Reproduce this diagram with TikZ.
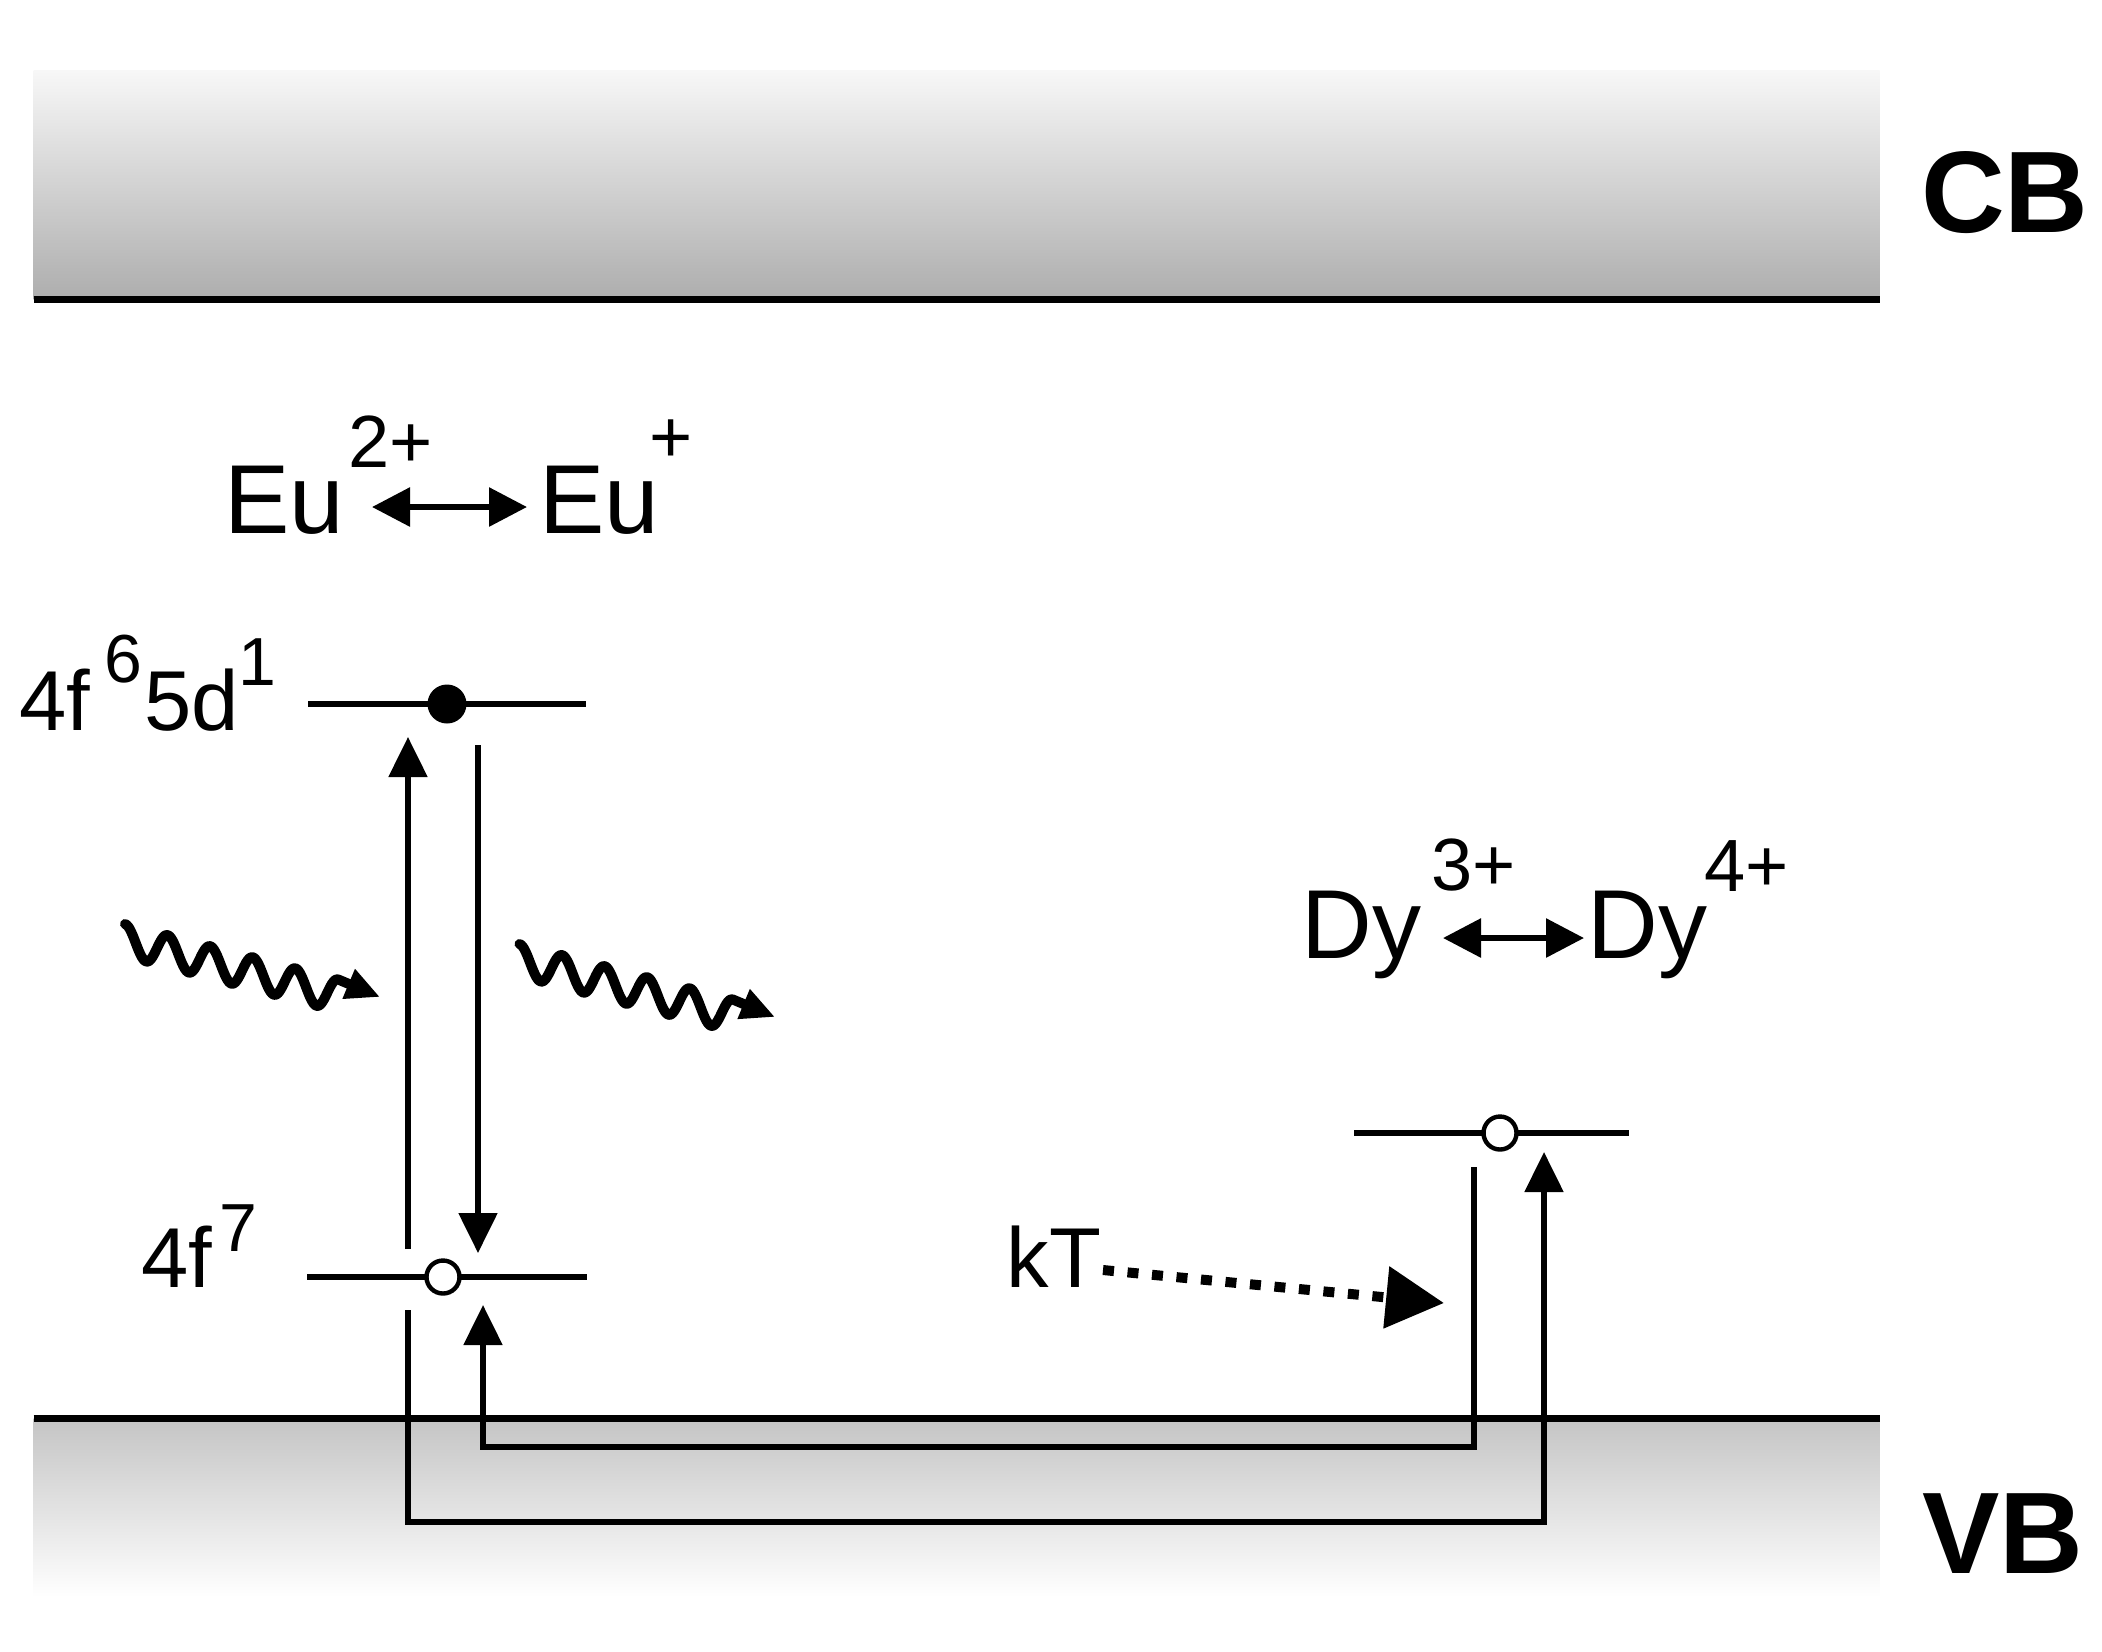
\documentclass[tikz,border=0pt]{standalone}
\usepackage{fontspec}
\setmainfont{Liberation Sans}
\usetikzlibrary{arrows.meta}
\begin{document}
\begin{tikzpicture}[x=0.5pt,y=-0.5pt,
  txt/.style={anchor=base west, inner sep=0pt, outer sep=0pt},
  big/.style={txt, font=\fontsize{49}{55}\selectfont},
  supA/.style={txt, font=\fontsize{37}{42}\selectfont},
  mid/.style={txt, font=\fontsize{42.5}{48}\selectfont},
  supB/.style={txt, font=\fontsize{34}{38}\selectfont},
  bandlbl/.style={txt, font=\fontsize{58}{64}\selectfont\bfseries},
  bandline/.style={line width=3.5pt},
  level/.style={line width=3pt},
  trans/.style={line width=2.6pt},
  vtip/.style={-{Triangle[length=20pt,width=19pt]}},
  swap/.style={line width=3pt,{Triangle[length=19pt,width=19pt]}-{Triangle[length=19pt,width=19pt]}},
  edot/.style={circle, fill=black, minimum size=19.5pt, inner sep=0pt},
  hole/.style={circle, draw=black, line width=2.2pt, fill=white, minimum size=16.5pt, inner sep=0pt},
  wave/.style={line width=5pt, line join=round, line cap=round, -{Triangle[length=17pt,width=15pt]}}
]
\useasboundingbox (0,0) rectangle (2102,1651);
\fill[white] (0,0) rectangle (2102,1651);

% conduction band
\shade[top color=black!3, bottom color=black!32] (33.5,70) rectangle (1879.5,299);
\draw[bandline] (33.5,299) -- (1879.5,299);
\node[bandlbl] (cb) at (1921,232) {CB};

% valence band
\shade[top color=black!23, bottom color=white] (33.5,1418) rectangle (1879.5,1597);
\draw[bandline] (33.5,1418) -- (1879.5,1418);
\node[bandlbl] (vb) at (1922.5,1573) {VB};

% Eu labels
\node[big] (eu1) at (224.5,533) {Eu};
\node[supA] (eu1s) at (348,467) {2+};
\node[big] (eu2) at (539.5,533) {Eu};
\node[supA] (eu2s) at (649,462) {+};
\coordinate (eua) at (372,507);
\coordinate (eub) at (527,507);
\draw[swap] (eua) -- (eub);

% Dy labels
\node[big] (dy1) at (1301.5,958) {Dy};
\node[supA] (dy1s) at (1431,890) {3+};
\node[big] (dy2) at (1587.5,958) {Dy};
\node[supA] (dy2s) at (1704,891) {4+};
\coordinate (dya) at (1443,938);
\coordinate (dyb) at (1584,938);
\draw[swap] (dya) -- (dyb);

% level labels
\node[mid] (l5d) at (19,730) {4f};
\node[supB] (l5ds) at (104,682) {6};
\node[mid] (l5d2) at (144,730) {5d};
\node[supB] (l5d2s) at (238,685) {1};
\node[mid] (l4f) at (141,1287) {4f};
\node[supB] (l4fs) at (219.5,1251) {7};

% levels
\coordinate (eL) at (308,704); \coordinate (eR) at (586,704);
\draw[level] (eL) -- (eR);
\coordinate (gL) at (307,1277); \coordinate (gR) at (587,1277);
\draw[level] (gL) -- (gR);
\coordinate (dL) at (1354,1133); \coordinate (dR) at (1629,1133);
\draw[level] (dL) -- (dR);

% transitions
\coordinate (absA) at (408,1249); \coordinate (absB) at (408,737);
\draw[trans,vtip] (absA) -- (absB);
\coordinate (emA) at (478,745); \coordinate (emB) at (478,1253);
\draw[trans,vtip] (emA) -- (emB);
\coordinate (retA) at (1474,1167); \coordinate (retB) at (483,1305);
\draw[trans,vtip] (retA) -- (1474,1447) -- (483,1447) -- (retB);
\coordinate (trA) at (408,1310); \coordinate (trB) at (1544,1152);
\draw[trans,vtip] (trA) -- (408,1522) -- (1544,1522) -- (trB);

% electron and holes
\node[edot] (e1) at (447,704) {};
\node[hole] (h1) at (443,1277) {};
\node[hole] (h2) at (1500,1133) {};

% kT
\node[mid] (kt) at (1006.5,1287) {kT};
\coordinate (ktA) at (1103,1270);
\coordinate (ktB) at (1444,1303);
\draw[line width=5pt, dash pattern=on 5.5pt off 6.8pt, -{Triangle[length=29pt,width=30pt]}] (ktA) -- (ktB);

% photons
\draw[wave] plot[domain=0:213, samples=140, smooth] ({125+\x},{940+0.26*\x-16*cos(8.451*\x)}) -- (380,997);
\draw[wave] plot[domain=0:213, samples=140, smooth] ({519.5+\x},{960+0.26*\x-16*cos(8.451*\x)}) -- (775,1017);
\end{tikzpicture}
\end{document}
